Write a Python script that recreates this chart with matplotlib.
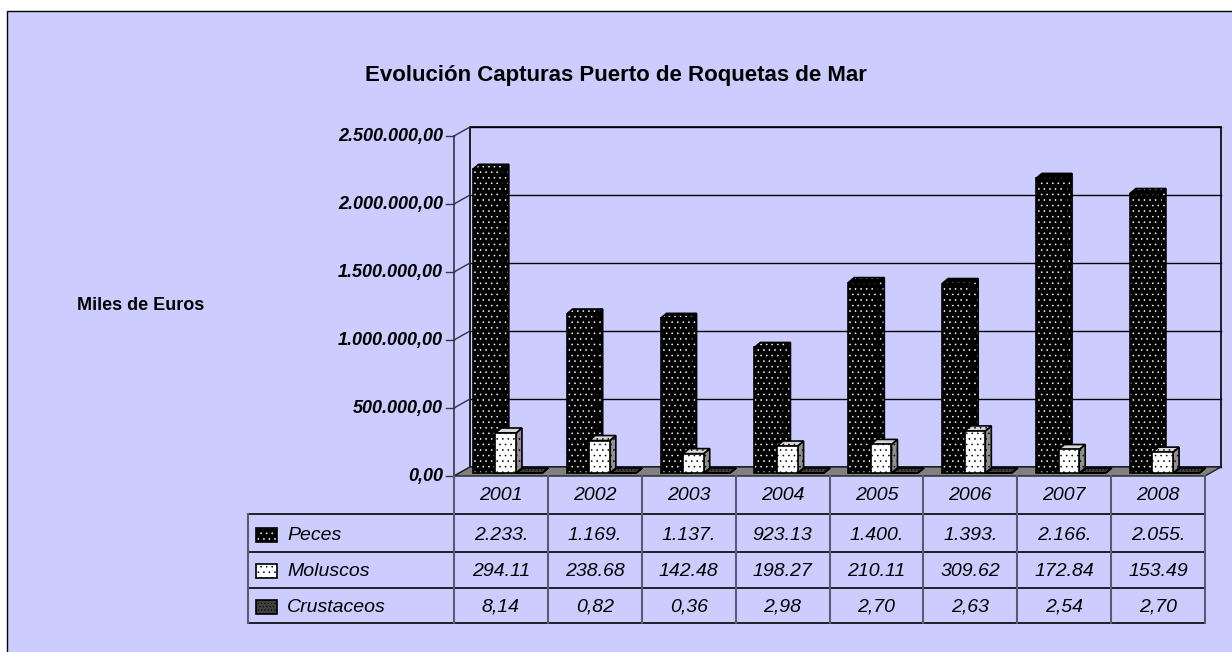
import numpy as np
import matplotlib.pyplot as plt
from matplotlib.patches import Polygon, Rectangle

plt.rcParams['font.family'] = ['Liberation Sans', 'DejaVu Sans']
plt.rcParams['hatch.linewidth'] = 0.4

# data
years = ['2001', '2002', '2003', '2004', '2005', '2006', '2007', '2008']
series = ['Peces', 'Moluscos', 'Crustaceos']
peces = [2233000, 1169000, 1137000, 923130, 1400000, 1393000, 2166000, 2055000]
moluscos = [294110, 238680, 142480, 198270, 210110, 309620, 172840, 153490]
crustaceos = [8.14, 0.82, 0.36, 2.98, 2.70, 2.63, 2.54, 2.70]
yticks = [0, 500000, 1000000, 1500000, 2000000, 2500000]

BG = '#CCCCFF'


def es_fmt(v):
    s = f"{v:,.2f}"
    return s.replace(',', 'X').replace('.', ',').replace('X', '.')


W, H = 1232, 652
fig = plt.figure(figsize=(W / 100, H / 100), dpi=100)
fig.patch.set_facecolor('white')
fig.patches.append(Rectangle((7 / W, -0.01), 1.02, 1 - 11 / H + 0.01, transform=fig.transFigure,
                             fc=BG, ec='black', lw=1, zorder=-5))

# front axis frame in pixels
x0p, x1p, y0p, y1p = 454, 1205, 476, 136
ax = fig.add_axes([x0p / W, (H - y0p) / H, (x1p - x0p) / W, (y0p - y1p) / H])
ax.set_xlim(0, len(years))
ax.set_ylim(0, yticks[-1])
ax.axis('off')

sx = len(years) / (x1p - x0p)      # data units per pixel
sy = yticks[-1] / (y0p - y1p)
DX, DY = 16 * sx, 9 * sy
n = len(years)

# back wall, grid, floor, side wall
ax.add_patch(Rectangle((DX, DY), n, yticks[-1], fc=BG, ec='black', lw=1.2, clip_on=False, zorder=1))
for t in yticks:
    ax.plot([DX, n + DX], [t + DY] * 2, color='black', lw=1, clip_on=False, zorder=1)
    ax.plot([0, DX], [t, t + DY], color='#333344', lw=1, clip_on=False, zorder=1)
    ax.plot([-8 * sx, 0], [t, t], color='#333344', lw=1, clip_on=False, zorder=1)
    ax.text(-11 * sx, t, es_fmt(t), ha='right', va='center', fontsize=13,
            fontweight='bold', fontstyle='italic')
ax.plot([0, 0], [0, yticks[-1]], color='#333344', lw=1.2, clip_on=False, zorder=1)
ax.add_patch(Polygon([(0, 0), (n, 0), (n + DX, DY), (DX, DY)], closed=True,
                     fc='#808080', ec='#222222', lw=1, clip_on=False, zorder=2))


def hatched(pts, fc, dots, z, hatch='...'):
    ax.add_patch(Polygon(pts, closed=True, fc=fc, ec=dots, hatch=hatch, lw=0,
                         clip_on=False, zorder=z))
    ax.add_patch(Polygon(pts, closed=True, fill=False, ec='black', lw=1.2,
                         clip_on=False, zorder=z))


def bar3d(xl, w, h, front, top, side, dots, hatch, z):
    B = 3 * sy
    ddx, ddy = 6 * sx, 5 * sy
    hatched([(xl + w, B), (xl + w + ddx, B + ddy), (xl + w + ddx, B + h + ddy), (xl + w, B + h)],
            side, dots, z, hatch)
    hatched([(xl, B + h), (xl + w, B + h), (xl + w + ddx, B + h + ddy), (xl + ddx, B + h + ddy)],
            top, dots, z, hatch)
    hatched([(xl, B), (xl + w, B), (xl + w, B + h), (xl, B + h)], front, dots, z, hatch)


styles = {
    'Peces': ('black', 'black', 'black', 'white', '...'),
    'Moluscos': ('white', '#d8d8d8', '#909090', 'black', '...'),
    'Crustaceos': ('#404040', '#404040', '#303030', 'black', '.....'),
}
offs = {'Peces': (0.20, 0.32), 'Moluscos': (0.44, 0.22), 'Crustaceos': (0.67, 0.27)}
values = {'Peces': peces, 'Moluscos': moluscos, 'Crustaceos': crustaceos}

for i in range(n):
    for k, name in enumerate(series):
        o, w = offs[name]
        f, t, s, d, hp = styles[name]
        bar3d(i + o, w, values[name][i], f, t, s, d, hp, 3 + k)

# data table
tr = ax.get_xaxis_transform()


def ay(py):
    return (y0p - py) / (y0p - y1p)


row_lines = [514, 552, 588, 623]
left = (248 - x0p) * sx
hc = 'black'
vc = '#5a5a70'
for py in row_lines:
    ax.plot([left, n], [ay(py)] * 2, color=hc, lw=1.2, transform=tr, clip_on=False)
for i in range(n + 1):
    ax.plot([i, i], [ay(476), ay(623)], color=vc, lw=1.5, transform=tr, clip_on=False)
ax.plot([left, left], [ay(514), ay(623)], color=vc, lw=1.5, transform=tr, clip_on=False)

for i, yr in enumerate(years):
    ax.text(i + 0.5, ay(495), yr, ha='center', va='center', fontsize=14,
            fontstyle='italic', transform=tr)

row_y = [535, 571, 607]
for k, name in enumerate(series):
    f, t, s, d, hp = styles[name]
    kx0, kx1 = (256 - x0p) * sx, (277 - x0p) * sx
    ky0, ky1 = ay(row_y[k] + 7), ay(row_y[k] - 7)
    pts = [(kx0, ky0), (kx1, ky0), (kx1, ky1), (kx0, ky1)]
    ax.add_patch(Polygon(pts, closed=True, fc=f, ec=d, hatch=hp, lw=0,
                         transform=tr, clip_on=False))
    ax.add_patch(Polygon(pts, closed=True, fill=False, ec='black', lw=1.2,
                         transform=tr, clip_on=False))
    ax.text((287 - x0p) * sx, ay(row_y[k]), name, ha='left', va='center', fontsize=14,
            fontstyle='italic', transform=tr)
    for i in range(n):
        ax.text(i + 0.5, ay(row_y[k]), es_fmt(values[name][i])[:6], ha='center',
                va='center', fontsize=14, fontstyle='italic', transform=tr)

fig.text(616 / W, 1 - 75 / H, 'Evolución Capturas Puerto de Roquetas de Mar',
         ha='center', va='center', fontsize=16, fontweight='bold')
fig.text(141 / W, 1 - 306 / H, 'Miles de Euros', ha='center', va='center',
         fontsize=13, fontweight='bold')

fig.savefig('out.png', dpi=100, facecolor=fig.get_facecolor())
